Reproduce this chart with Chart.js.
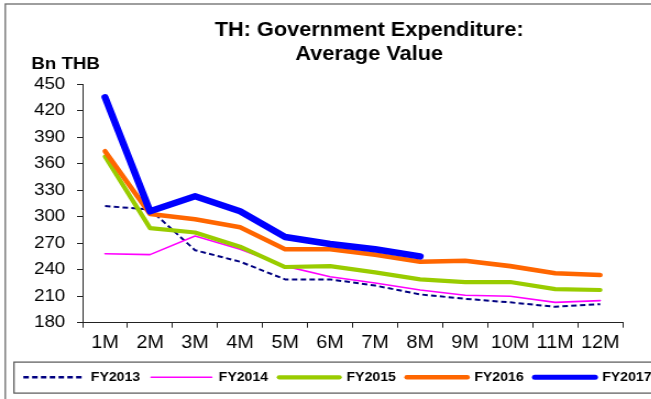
<!DOCTYPE html>
<html>
<head>
<meta charset="utf-8">
<script src="https://cdn.jsdelivr.net/npm/chart.js@4.4.1/dist/chart.umd.min.js"></script>
<style>
  html, body { margin: 0; padding: 0; overflow: hidden; background: #fff; }
  #box { width: 651px; height: 399px; overflow: hidden; }
</style>
</head>
<body>
<div id="box"><canvas id="myChart" width="660" height="399" style="width:726px;height:399px"></canvas></div>
<script>
// months of the fiscal year
const months = ['1M', '2M', '3M', '4M', '5M', '6M', '7M', '8M', '9M', '10M', '11M', '12M'];

// average value, Bn THB
const fy2013 = [312, 308, 262, 249, 229, 229, 222, 212, 207, 203, 198, 201];
const fy2014 = [258, 257, 278, 263, 244, 232, 225, 217, 211, 210, 203, 205];
const fy2015 = [368, 287, 282, 266, 243, 244, 237, 229, 226, 226, 218, 217];
const fy2016 = [374, 303, 297, 288, 263, 263, 257, 249, 250, 244, 236, 234];
const fy2017 = [435, 306, 323, 306, 277, 269, 263, 255];

const yTicks = [180, 210, 240, 270, 300, 330, 360, 390, 420, 450];

Chart.defaults.font.family = "Arial, 'Liberation Sans', sans-serif";
Chart.defaults.color = '#000';

function series(label, values, color, width, dash, order) {
	return {
		label: label,
		data: values,
		borderColor: color,
		backgroundColor: color,
		borderWidth: width,
		borderDash: dash,
		borderCapStyle: dash.length ? 'butt' : 'round',
		borderJoinStyle: 'round',
		pointRadius: 0,
		pointHoverRadius: 0,
		tension: 0,
		fill: false,
		order: order
	};
}

// legend entries drawn as the series' own line (dash, cap, width)
function legendLabels(chart) {
	const items = Chart.defaults.plugins.legend.labels.generateLabels(chart);
	return items.map(item => {
		const ds = chart.data.datasets[item.datasetIndex];
		item.lineDash = ds.borderDash;
		item.lineCap = ds.borderCapStyle;
		item.lineWidth = ds.borderDash.length ? 2.4 : Math.min(ds.borderWidth, 5);
		return item;
	});
}

// frame round the chart, frame round the legend, unit label
const decorations = {
	id: 'decorations',
	afterDraw(chart) {
		const ctx = chart.ctx;
		const lg = chart.legend;
		ctx.save();
		ctx.strokeStyle = '#6b6b6b';
		ctx.lineWidth = 1.3;
		ctx.strokeRect(4.8, 4, chart.width + 20, chart.height + 20);
		ctx.strokeStyle = '#555';
		ctx.lineWidth = 1.2;
		ctx.strokeRect(lg.left + 1.5, lg.top + 1.2, chart.width, 31);
		ctx.fillStyle = '#000';
		ctx.font = "bold 17px Arial, 'Liberation Sans', sans-serif";
		ctx.textAlign = 'left';
		ctx.textBaseline = 'alphabetic';
		ctx.fillText('Bn THB', 28.5, 68.5);
		ctx.restore();
	}
};

const ctx = document.getElementById('myChart').getContext('2d');
const myChart = new Chart(ctx, {
	type: 'line',
	data: {
		labels: months,
		datasets: [
			series('FY2013', fy2013, '#000080', 2, [5, 3], 4),
			series('FY2014', fy2014, '#ff00ff', 1.6, [], 3),
			series('FY2015', fy2015, '#99cc00', 4.2, [], 2),
			series('FY2016', fy2016, '#ff6600', 4.6, [], 1),
			series('FY2017', fy2017, '#0000ff', 6.5, [], 0)
		]
	},
	options: {
		responsive: false,
		devicePixelRatio: 1,
		animation: false,
		layout: { padding: { left: 11.2, right: 0, top: 0, bottom: 5.3 } },
		plugins: {
			title: {
				display: true,
				text: ['TH: Government Expenditure:', 'Average Value'],
				color: '#000',
				font: { size: 19.75, weight: 'bold', lineHeight: 1.18 },
				padding: { top: 19.35, bottom: 18.05 }
			},
			legend: {
				position: 'bottom',
				align: 'start',
				labels: {
					sort: (a, b) => a.datasetIndex - b.datasetIndex,
					generateLabels: legendLabels,
					usePointStyle: true,
					pointStyle: 'line',
					pointStyleWidth: 55,
					padding: 10,
					color: '#000',
					font: { size: 12.8, weight: 'bold' }
				}
			},
			tooltip: { enabled: false }
		},
		scales: {
			x: {
				type: 'category',
				offset: true,
				grid: { offset: true, drawOnChartArea: false, tickLength: 5, color: '#222' },
				border: { color: '#222', width: 1 },
				ticks: { padding: 4.5, font: { size: 18 }, color: '#000', maxRotation: 0, autoSkip: false },
				afterFit: s => { s.height = 38.2; }
			},
			y: {
				min: 180,
				max: 450,
				afterBuildTicks: s => { s.ticks = yTicks.map(v => ({ value: v })); },
				grid: { drawOnChartArea: false, tickLength: 5, color: '#222' },
				border: { color: '#222', width: 1 },
				ticks: { padding: 10.7, font: { size: 17 }, color: '#000' },
				afterFit: s => { s.width = 63.8; }
			},
			yRight: {
				type: 'linear',
				position: 'right',
				grid: { display: false },
				border: { display: false },
				ticks: { display: false },
				afterFit: s => { s.width = 93.9; }
			}
		}
	},
	plugins: [decorations]
});
</script>
</body>
</html>
